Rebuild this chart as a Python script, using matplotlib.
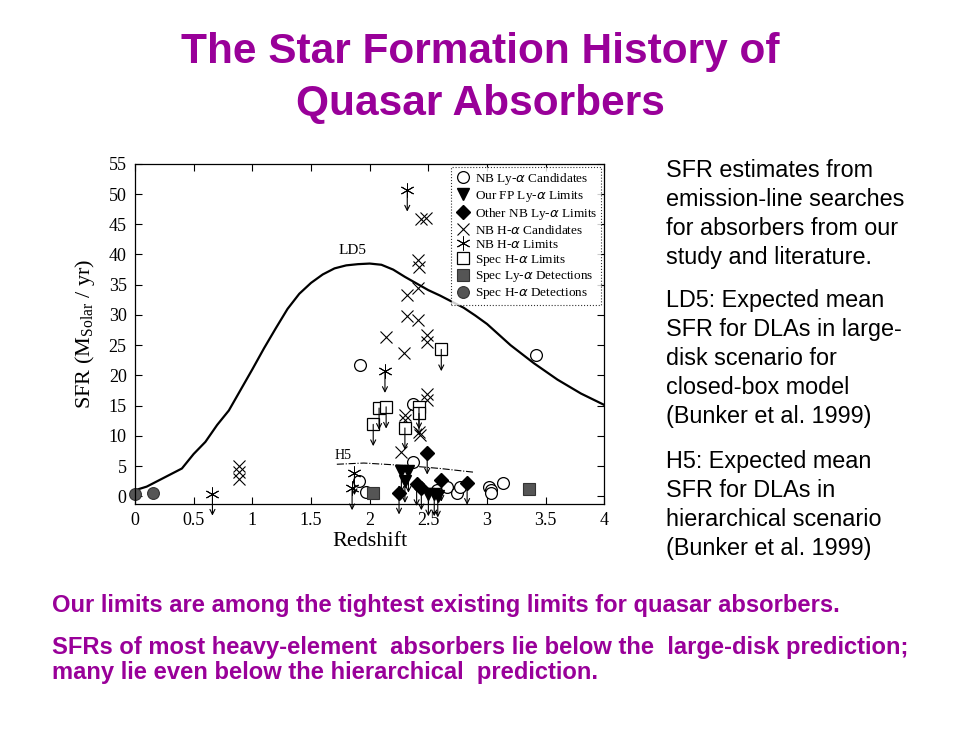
import numpy as np
import matplotlib
matplotlib.use("Agg")
import matplotlib.pyplot as plt

# LD5 large-disk model curve (Bunker et al. 1999)
ld5_z = [0.0, 0.1, 0.2, 0.3, 0.4, 0.5, 0.6, 0.7, 0.8, 0.9, 1.0, 1.1, 1.2, 1.3,
         1.4, 1.5, 1.6, 1.7, 1.8, 1.9, 2.0, 2.1, 2.2, 2.3, 2.4, 2.5, 2.6, 2.7,
         2.8, 2.9, 3.0, 3.2, 3.4, 3.6, 3.8, 4.0]
ld5_sfr = [1.0, 1.6, 2.6, 3.6, 4.6, 7.0, 9.0, 11.8, 14.2, 17.6, 21.0, 24.5,
           27.8, 31.0, 33.5, 35.3, 36.7, 37.7, 38.2, 38.4, 38.5, 38.3, 37.5,
           36.3, 35.2, 34.1, 33.2, 32.2, 31.2, 29.9, 28.5, 25.0, 22.0, 19.3,
           17.0, 15.1]

# H5 hierarchical model
h5_z = [1.72, 1.95, 2.3, 2.6, 2.88]
h5_sfr = [5.3, 5.5, 5.1, 4.6, 4.0]

# NB Ly-a candidates (open circles)
lya_cand_z = [1.92, 3.42, 2.37, 2.37, 1.91, 1.97, 2.57, 2.66, 2.74, 2.77,
              3.02, 3.03, 3.03, 3.14]
lya_cand_sfr = [21.8, 23.4, 15.3, 5.6, 2.6, 0.7, 1.0, 1.5, 0.5, 1.5,
                1.5, 1.0, 0.5, 2.2]

# Our FP Ly-a limits (filled down triangles)
fp_lim_z = [2.27, 2.33, 2.30, 2.50, 2.55, 2.58]
fp_lim_sfr = [4.2, 4.2, 2.5, 0.3, 0.3, 0.1]

# Other NB Ly-a limits (filled diamonds)
nb_lim_z = [2.25, 2.40, 2.44, 2.49, 2.61, 2.83]
nb_lim_sfr = [0.6, 2.0, 1.3, 7.2, 2.7, 2.2]

# NB H-a candidates (x)
ha_cand_z = [2.44, 2.48, 2.41, 2.42, 2.41, 2.32, 2.32, 2.41, 2.14, 2.49, 2.49,
             2.29, 2.49, 2.49, 2.30, 2.30, 2.43, 2.42, 2.27, 0.89, 0.89, 0.89]
ha_cand_sfr = [45.9, 46.1, 39.1, 37.9, 34.4, 33.3, 29.8, 29.1, 26.3, 26.6, 25.5,
               23.7, 17.0, 15.9, 13.4, 12.6, 10.1, 10.6, 7.3, 5.0, 4.0, 2.8]

# NB H-a limits (asterisks)
ha_lim_z = [2.32, 2.13, 1.87, 1.85, 0.66]
ha_lim_sfr = [50.7, 20.7, 3.8, 1.3, 0.4]

# Spec H-a limits (open squares)
spec_ha_lim_z = [2.61, 2.08, 2.14, 2.42, 2.42, 2.03, 2.30]
spec_ha_lim_sfr = [24.3, 14.6, 14.8, 14.7, 13.7, 11.9, 11.3]

# Spec Ly-a detections (gray squares)
spec_lya_det_z = [2.03, 3.36]
spec_lya_det_sfr = [0.6, 1.2]

# Spec H-a detections (gray circles)
spec_ha_det_z = [0.0, 0.15]
spec_ha_det_sfr = [0.3, 0.6]

PURPLE = "#990099"
SERIF = ["Liberation Serif", "DejaVu Serif"]
SANS = ["Liberation Sans", "DejaVu Sans"]
ARROW = 3.6  # length of upper-limit arrows in SFR units

fig = plt.figure(figsize=(9.6, 7.48), dpi=100)
fig.patch.set_facecolor("white")

fig.text(0.5, 0.930, "The Star Formation History of", ha="center", va="center",
         color=PURPLE, fontsize=30.5, fontweight="bold", family=SANS)
fig.text(0.5, 0.861, "Quasar Absorbers", ha="center", va="center",
         color=PURPLE, fontsize=30.5, fontweight="bold", family=SANS)

ax = fig.add_axes([0.1406, 0.326, 0.489, 0.455])
ax.plot(ld5_z, ld5_sfr, color="black", lw=1.6)
ax.plot(h5_z, h5_sfr, color="black", lw=0.8, ls="-.")
ax.text(1.85, 39.6, "LD5", family=SERIF, fontsize=11, ha="center", va="bottom")
ax.text(1.77, 5.7, "H5", family=SERIF, fontsize=10, ha="center", va="bottom")


def limits(zs, ys):
    for z, y in zip(zs, ys):
        ax.annotate("", xy=(z, y - ARROW), xytext=(z, y),
                    arrowprops=dict(arrowstyle="->", lw=0.8, color="black",
                                    shrinkA=0, shrinkB=0,
                                    mutation_scale=9),
                    annotation_clip=False)


limits(fp_lim_z, fp_lim_sfr)
limits(nb_lim_z, nb_lim_sfr)
limits(ha_lim_z, ha_lim_sfr)
limits(spec_ha_lim_z, spec_ha_lim_sfr)

kw = dict(ls="none", clip_on=False)
ax.plot(lya_cand_z, lya_cand_sfr, marker="o", ms=8.5, mfc="white", mec="black",
        mew=0.9, label=r"NB Ly-$\alpha$ Candidates", **kw)
ax.plot(fp_lim_z, fp_lim_sfr, marker="v", ms=8.5, color="black",
        label=r"Our FP Ly-$\alpha$ Limits", **kw)
ax.plot(nb_lim_z, nb_lim_sfr, marker="D", ms=7, color="black",
        label=r"Other NB Ly-$\alpha$ Limits", **kw)
ax.plot(ha_cand_z, ha_cand_sfr, marker="x", ms=8, color="black", mew=0.8,
        label=r"NB H-$\alpha$ Candidates", **kw)
ax.plot(ha_lim_z, ha_lim_sfr, marker=(6, 2, 0), ms=10, color="black", mew=0.7,
        label=r"NB H-$\alpha$ Limits", **kw)
ax.plot(spec_ha_lim_z, spec_ha_lim_sfr, marker="s", ms=8, mfc="white",
        mec="black", mew=0.9, label=r"Spec H-$\alpha$ Limits", **kw)
ax.plot(spec_lya_det_z, spec_lya_det_sfr, marker="s", ms=8, mfc="#555555",
        mec="#333333", mew=0.8, label=r"Spec Ly-$\alpha$ Detections", **kw)
ax.plot(spec_ha_det_z, spec_ha_det_sfr, marker="o", ms=8.5, mfc="#555555",
        mec="#333333", mew=0.8, label=r"Spec H-$\alpha$ Detections", **kw)

ax.set_xlim(0, 4)
ax.set_ylim(-1.3, 55)
ax.set_xticks(np.arange(0, 4.01, 0.5))
ax.set_xticklabels(["0", "0.5", "1", "1.5", "2", "2.5", "3", "3.5", "4"])
ax.set_yticks(np.arange(0, 56, 5))
ax.tick_params(direction="in", top=True, right=True, length=5, width=0.8,
               labelsize=13, pad=6)
for lab in ax.get_xticklabels() + ax.get_yticklabels():
    lab.set_family(SERIF)
for sp in ax.spines.values():
    sp.set_linewidth(0.9)

ax.set_xlabel("Redshift", family=SERIF, fontsize=16, labelpad=2)
ax.set_ylabel(r"SFR (M$_{\mathregular{Solar}}$ / yr)", family=SERIF,
              fontsize=16, labelpad=8)

leg = ax.legend(loc="upper right", prop=dict(family=SERIF, size=9.5),
                frameon=True, fancybox=False, borderaxespad=0.25,
                handletextpad=0.3, labelspacing=0.14, borderpad=0.3,
                handlelength=1.2, numpoints=1)
leg.get_frame().set_edgecolor("black")
leg.get_frame().set_linestyle(":")
leg.get_frame().set_linewidth(0.8)

right_paras = [
    ("SFR estimates from\nemission-line searches\nfor absorbers from our\n"
     "study and literature.", 0.787),
    ("LD5: Expected mean\nSFR for DLAs in large-\ndisk scenario for\n"
     "closed-box model\n(Bunker et al. 1999)", 0.613),
    ("H5: Expected mean\nSFR for DLAs in\nhierarchical scenario\n"
     "(Bunker et al. 1999)", 0.398),
]
for txt, ytop in right_paras:
    fig.text(0.694, ytop, txt, ha="left", va="top", fontsize=16.8,
             family=SANS, linespacing=1.33)

fig.text(0.054, 0.191,
         "Our limits are among the tightest existing limits for quasar absorbers.",
         ha="left", va="center", color=PURPLE, fontsize=17.1, fontweight="bold",
         family=SANS)
fig.text(0.054, 0.118,
         "SFRs of most heavy-element  absorbers lie below the  large-disk prediction;\n"
         "many lie even below the hierarchical  prediction.",
         ha="left", va="center", color=PURPLE, fontsize=17.1, fontweight="bold",
         family=SANS, linespacing=1.13)

fig.savefig("out.png", dpi=100)
